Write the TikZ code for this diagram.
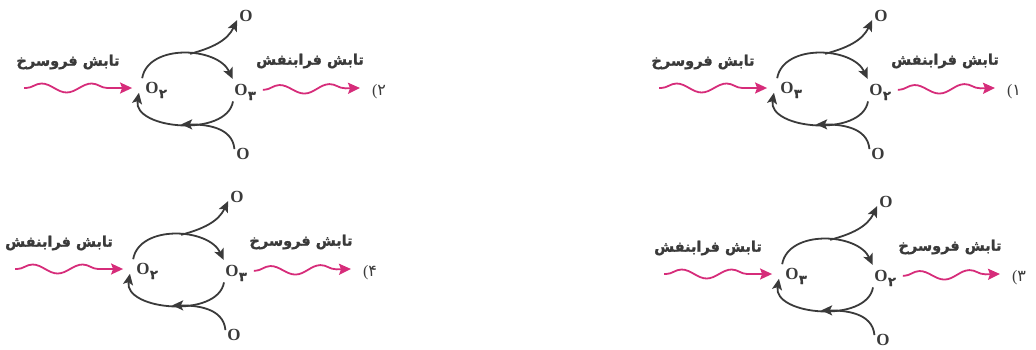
\documentclass[tikz,border=0pt]{standalone}
\usepackage{fontspec}
\setmainfont{Liberation Serif}
\newfontfamily\fafont[Script=Arabic, BoldFeatures={FakeBold=1.2}]{DejaVu Sans}
\TeXXeTstate=1
\usetikzlibrary{arrows.meta,decorations.pathmorphing}
\definecolor{ink}{RGB}{58,58,58}
\definecolor{ray}{RGB}{214,44,122}
\tikzset{
  every picture/.style={color=ink, line width=1.8pt},
  spec/.style={circle, minimum size=26pt, inner sep=0pt, font=\fontsize{17}{17}\selectfont\bfseries, text=ink},
  atom/.style={spec, minimum size=18pt},
  sub/.style={inner sep=0pt, font=\fontsize{13}{13}\fafont\bfseries, text=ink},
  cyc/.style={-{Stealth[length=11pt,width=10pt,inset=2.5pt]}, line width=1.8pt, color=ink},
  wave/.style={-{Stealth[length=12pt,width=11pt,inset=2pt]}, color=ray, line width=1.8pt,
    decorate, decoration={snake, segment length=50pt, amplitude=4.5pt, pre length=2pt, post length=20pt}},
  rad/.style={font=\fontsize{14.5}{16}\fafont\bfseries, text=ink, inner sep=0pt},
  num/.style={font=\fontsize{16}{18}\fafont, text=ink, inner sep=0pt},
}

\begin{document}
\begin{tikzpicture}[x=1pt,y=1pt]
  \useasboundingbox (0,0) rectangle (1036,-349);
  \foreach \n/\px/\py/\ltxt/\rtxt/\lsub/\rsub/\nr in {
      a/787/88/فروسرخ/فرابنفش/۳/۲/۱,
      b/152/88/فروسرخ/فرابنفش/۲/۳/۲,
      c/792/274/فرابنفش/فروسرخ/۳/۲/۳,
      d/143/269/فرابنفش/فروسرخ/۲/۳/۴} {
  \begin{scope}[shift={(\px,-\py)}]
    % species and atoms
    \node[spec] (L\n) at (0,0) {O};
    \node[sub] (Ls\n) at (11,-6) {\lsub};
    \node[spec] (R\n) at (89,-2) {O};
    \node[sub] (Rs\n) at (100,-8) {\rsub};
    \node[atom] (T\n) at (94,72) {O};
    \node[atom] (B\n) at (91,-66) {O};
    % cycle
    \draw[cyc] (L\n.135) to[out=80,in=115] coordinate[pos=.55] (tp\n) (R\n.127);
    \draw[cyc] (R\n.235) to[out=-100,in=-100] coordinate[pos=.5] (bp\n) (L\n.200);
    \draw[cyc] (tp\n) to[out=15,in=245] (T\n.205);
    \draw[cyc] (B\n.150) to[out=95,in=0] (bp\n);
    % radiation
    \coordinate (ws\n) at (-128,0);
    \coordinate (we\n) at (208,0);
    \draw[wave, shorten >=6pt] (ws\n) -- (L\n.180);
    \draw[wave, decoration={pre length=9pt, post length=14pt}, shorten <=8pt] (R\n.0) -- (we\n);
    \node[rad] (lt\n) at (-84,26) {\beginR تابش \ltxt\endR};
    \node[rad] (rt\n) at (158,27) {\beginR تابش \rtxt\endR};
    \node[num] (nr\n) at (227,-4) {{\rmfamily(}\mbox{\nr}};
  \end{scope}
  }
\end{tikzpicture}
\end{document}
